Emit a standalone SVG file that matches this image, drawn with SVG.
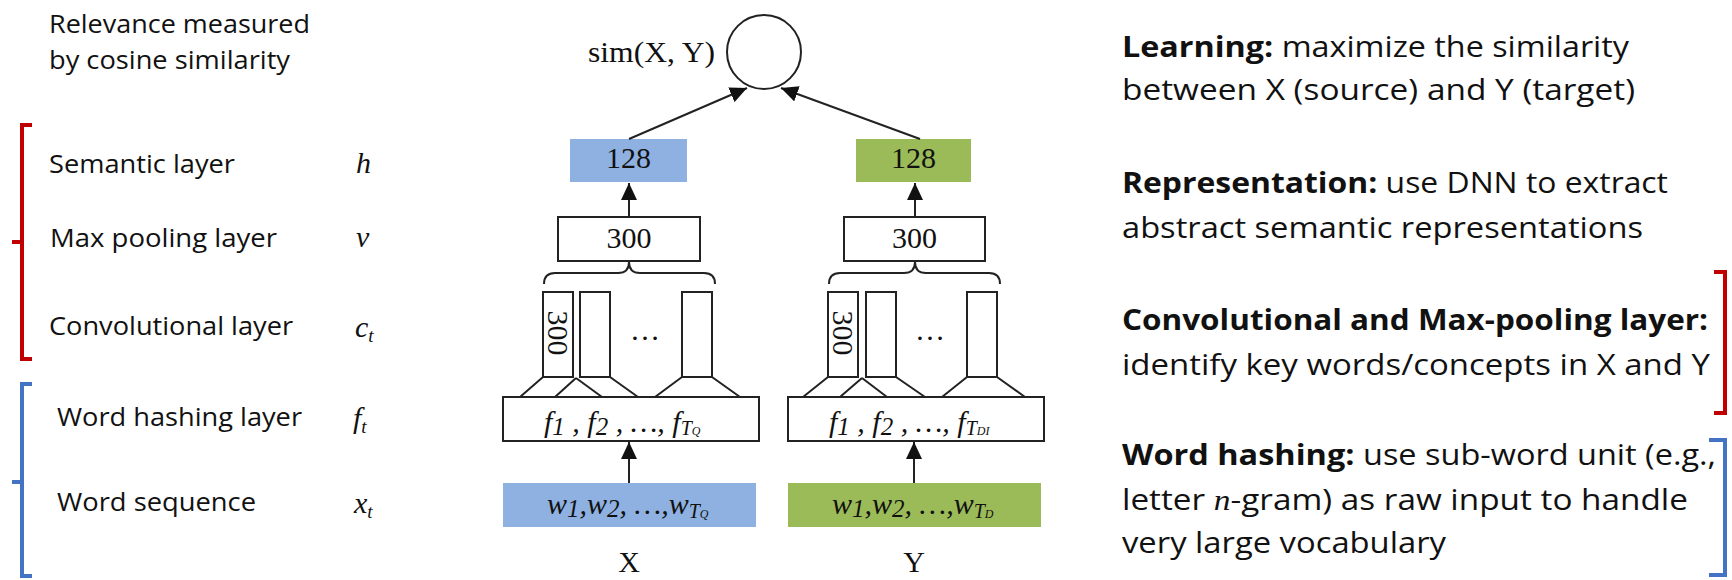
<svg xmlns="http://www.w3.org/2000/svg" width="1732" height="580" viewBox="0 0 1732 580">
<style>
.lab{font-family:"Open Sans","Noto Sans",sans-serif;font-size:25px;fill:#111}
.rt{font-family:"Open Sans","Noto Sans",sans-serif;font-size:29px;fill:#111}
.b{font-weight:bold}
.tm{font-family:"Liberation Serif","DejaVu Serif",serif;font-size:30px;fill:#111}
.mi{font-family:"Liberation Serif","DejaVu Serif",serif;font-style:italic;font-size:30px;fill:#111}
.box{fill:#fff;stroke:#222;stroke-width:2}
.ln{fill:none;stroke:#222;stroke-width:2}
.red{fill:none;stroke:#c00000;stroke-width:4}
.blue{fill:none;stroke:#4472c4;stroke-width:4}
.bx{fill:#8eb1e1}
.gx{fill:#9bbb59}
</style>
<defs>
<marker id="ah" markerUnits="userSpaceOnUse" markerWidth="18" markerHeight="16" refX="17" refY="8" orient="auto">
<path d="M0,0 L17,8 L0,16 z" fill="#111"/>
</marker>
</defs>

<g id="left-labels">
<text class="lab" x="49" y="33" textLength="261" lengthAdjust="spacingAndGlyphs">Relevance measured</text>
<text class="lab" x="49" y="69" textLength="241" lengthAdjust="spacingAndGlyphs">by cosine similarity</text>
<text class="lab" x="49" y="173" textLength="186" lengthAdjust="spacingAndGlyphs">Semantic layer</text>
<text class="lab" x="50" y="247" textLength="227" lengthAdjust="spacingAndGlyphs">Max pooling layer</text>
<text class="lab" x="49" y="335" textLength="244" lengthAdjust="spacingAndGlyphs">Convolutional layer</text>
<text class="lab" x="57" y="426" textLength="245" lengthAdjust="spacingAndGlyphs">Word hashing layer</text>
<text class="lab" x="57" y="511" textLength="199" lengthAdjust="spacingAndGlyphs">Word sequence</text>
<text class="mi" x="356" y="173">h</text>
<text class="mi" x="356" y="247">v</text>
<text class="mi" x="355" y="337">c<tspan font-size="19" dy="5">t</tspan></text>
<text class="mi" x="353" y="428">f<tspan font-size="19" dy="5">t</tspan></text>
<text class="mi" x="354" y="513">x<tspan font-size="19" dy="5">t</tspan></text>
</g>

<g id="brackets">
<path class="red" d="M32,125 H22 V359 H32 M22,242 H12"/>
<path class="blue" d="M32,384 H22 V576 H32 M22,482 H12"/>
<path class="red" d="M1714,272 H1725 V413 H1714"/>
<path class="blue" d="M1709,440 H1725 V575 H1709"/>
</g>

<g id="sim">
<circle cx="764" cy="52" r="37" fill="#fff" stroke="#222" stroke-width="2"/>
<text class="tm" x="588" y="62" textLength="127" lengthAdjust="spacingAndGlyphs">sim(X, Y)</text>
</g>

<g id="x-semantic">
<rect class="bx" x="570" y="139" width="117" height="43"/>
<text class="tm" x="628.5" y="168" text-anchor="middle">128</text>
</g>
<g id="y-semantic">
<rect class="gx" x="856" y="139" width="115" height="43"/>
<text class="tm" x="913.5" y="168" text-anchor="middle">128</text>
</g>

<g id="x-maxpool">
<rect class="box" x="558" y="217" width="142" height="44"/>
<text class="tm" x="629" y="248" text-anchor="middle">300</text>
<path class="ln" d="M544,284 Q544,273 555,273 H618 Q629,273 629,262 Q629,273 640,273 H704 Q715,273 715,284"/>
</g>
<g id="y-maxpool">
<rect class="box" x="844" y="217" width="141" height="44"/>
<text class="tm" x="914.5" y="248" text-anchor="middle">300</text>
<path class="ln" d="M829,284 Q829,273 840,273 H904 Q915,273 915,262 Q915,273 926,273 H989 Q1000,273 1000,284"/>
</g>

<g id="x-conv">
<rect class="box" x="543" y="292" width="30" height="85"/>
<rect class="box" x="580" y="292" width="30" height="85"/>
<rect class="box" x="682" y="292" width="30" height="85"/>
<text class="tm" font-size="28" transform="translate(558,333) rotate(90)" text-anchor="middle" dy="10">300</text>
<text class="tm" x="645" y="340" text-anchor="middle" font-size="26">…</text>
<path class="ln" d="M543,377 L520,397 M576,378 L555,397 M576,378 L602,397 M610,377 L638,397 M682,377 L655,397 M712,377 L740,397"/>
</g>
<g id="y-conv">
<rect class="box" x="828" y="292" width="30" height="85"/>
<rect class="box" x="866" y="292" width="30" height="85"/>
<rect class="box" x="967" y="292" width="30" height="85"/>
<text class="tm" font-size="28" transform="translate(843,333) rotate(90)" text-anchor="middle" dy="10">300</text>
<text class="tm" x="930" y="340" text-anchor="middle" font-size="26">…</text>
<path class="ln" d="M828,377 L803,397 M862,378 L840,397 M862,378 L887,397 M896,377 L925,397 M967,377 L942,397 M997,377 L1025,397"/>
</g>

<g id="x-hash">
<rect class="box" x="503" y="397" width="256" height="44"/>
<text class="mi" x="544" y="432">f<tspan font-size="25" dy="3">1</tspan><tspan dy="-3"> , f</tspan><tspan font-size="25" dy="3">2</tspan><tspan dy="-3"> , …, f</tspan><tspan font-size="20" dy="3">T</tspan><tspan font-size="12" dy="0">Q</tspan></text>
</g>
<g id="y-hash">
<rect class="box" x="788" y="397" width="256" height="44"/>
<text class="mi" x="829" y="432">f<tspan font-size="25" dy="3">1</tspan><tspan dy="-3"> , f</tspan><tspan font-size="25" dy="3">2</tspan><tspan dy="-3"> , …, f</tspan><tspan font-size="20" dy="3">T</tspan><tspan font-size="12" dy="0">DI</tspan></text>
</g>

<g id="x-words">
<rect class="bx" x="503" y="483" width="253" height="44"/>
<text class="mi" x="547" y="514">w<tspan font-size="25" dy="3">1</tspan><tspan dy="-3">,w</tspan><tspan font-size="25" dy="3">2</tspan><tspan dy="-3">, …,w</tspan><tspan font-size="20" dy="4">T</tspan><tspan font-size="12" dy="0">Q</tspan></text>
<text class="tm" x="629" y="572" text-anchor="middle">X</text>
</g>
<g id="y-words">
<rect class="gx" x="788" y="483" width="253" height="44"/>
<text class="mi" x="832" y="514">w<tspan font-size="25" dy="3">1</tspan><tspan dy="-3">,w</tspan><tspan font-size="25" dy="3">2</tspan><tspan dy="-3">, …,w</tspan><tspan font-size="20" dy="4">T</tspan><tspan font-size="12" dy="0">D</tspan></text>
<text class="tm" x="914" y="572" text-anchor="middle">Y</text>
</g>

<g id="connectors" fill="none" stroke="#222" stroke-width="2">
<line x1="629" y1="139" x2="747" y2="88" marker-end="url(#ah)"/>
<line x1="920" y1="139" x2="781" y2="88" marker-end="url(#ah)"/>
<line x1="629" y1="217" x2="629" y2="183" marker-end="url(#ah)"/>
<line x1="915" y1="217" x2="915" y2="183" marker-end="url(#ah)"/>
<line x1="629" y1="483" x2="629" y2="442" marker-end="url(#ah)"/>
<line x1="914" y1="483" x2="914" y2="442" marker-end="url(#ah)"/>
</g>

<g id="right-notes">
<text class="rt" x="1122" y="57" textLength="507" lengthAdjust="spacingAndGlyphs"><tspan class="b">Learning:</tspan> maximize the similarity</text>
<text class="rt" x="1122" y="100" textLength="513" lengthAdjust="spacingAndGlyphs">between X (source) and Y (target)</text>
<text class="rt" x="1122" y="193" textLength="546" lengthAdjust="spacingAndGlyphs"><tspan class="b">Representation:</tspan> use DNN to extract</text>
<text class="rt" x="1122" y="238" textLength="521" lengthAdjust="spacingAndGlyphs">abstract semantic representations</text>
<text class="rt" x="1122" y="330" textLength="586" lengthAdjust="spacingAndGlyphs"><tspan class="b">Convolutional and Max-pooling layer:</tspan></text>
<text class="rt" x="1122" y="375" textLength="588" lengthAdjust="spacingAndGlyphs">identify key words/concepts in X and Y</text>
<text class="rt" x="1122" y="465" textLength="594" lengthAdjust="spacingAndGlyphs"><tspan class="b">Word hashing:</tspan> use sub-word unit (e.g.,</text>
<text class="rt" x="1122" y="510" textLength="566" lengthAdjust="spacingAndGlyphs">letter <tspan font-family="Liberation Serif,serif" font-style="italic">n</tspan>-gram) as raw input to handle</text>
<text class="rt" x="1122" y="553" textLength="324" lengthAdjust="spacingAndGlyphs">very large vocabulary</text>
</g>
</svg>
